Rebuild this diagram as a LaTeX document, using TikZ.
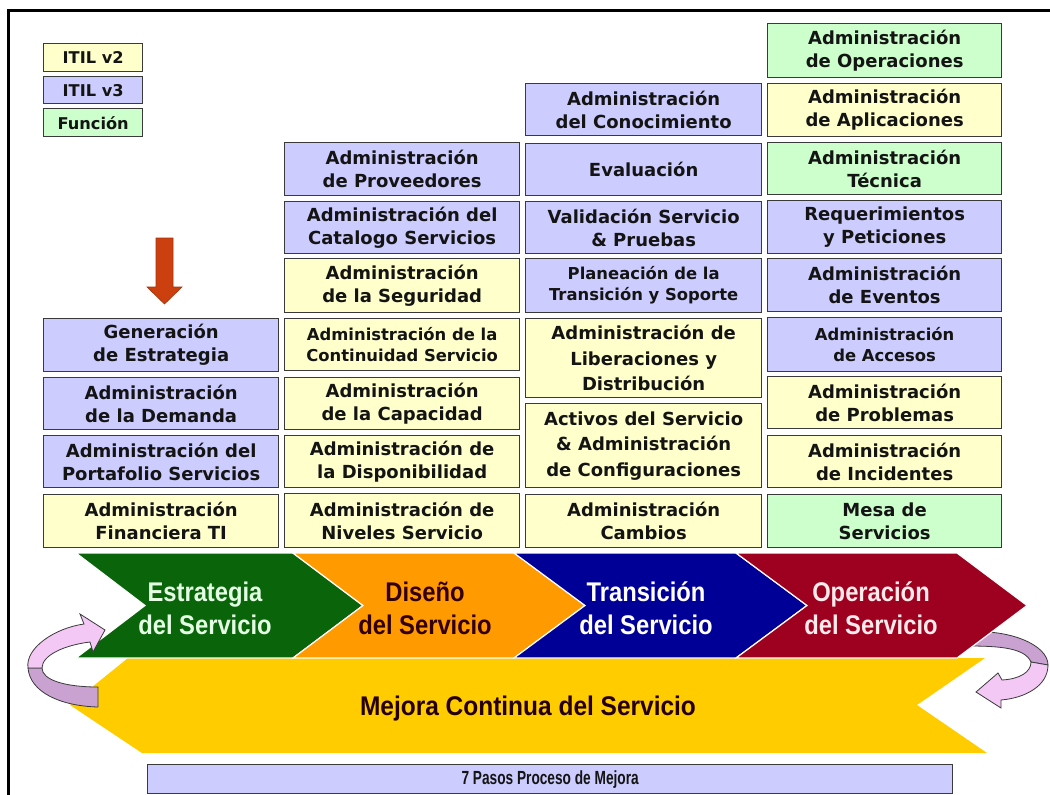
\documentclass[tikz,border=0pt]{standalone}
\usepackage{fontspec}
\newfontfamily\boxfam{DejaVu Sans}
\newfontfamily\phasefam{Liberation Sans}[FakeStretch=0.88]
\newfontfamily\narrowfam{Liberation Sans}[FakeStretch=0.72]
\definecolor{vtwo}{HTML}{FFFFCC}
\definecolor{vthree}{HTML}{CCCCFF}
\definecolor{func}{HTML}{CCFFCC}
\definecolor{boxline}{HTML}{3A3A3A}
\definecolor{boxtext}{HTML}{141414}
\definecolor{phgreen}{HTML}{0A640A}
\definecolor{phorange}{HTML}{FF9A00}
\definecolor{phblue}{HTML}{000096}
\definecolor{phred}{HTML}{9E0020}
\definecolor{band}{HTML}{FFCC00}
\definecolor{loopdark}{HTML}{C9A2D2}
\definecolor{looplight}{HTML}{F4C8F4}
\definecolor{downarrow}{HTML}{CC4010}
% one service box: name, x, top, bottom, width, options, text
\newcommand\svcbox[7]{\node[box, #6, minimum width=#5pt, minimum height={(#4-#3)*1pt}] (#1) at (#2,#3) {#7};}
\begin{document}
\begin{tikzpicture}[x=1pt,y=-1pt,
  box/.style={draw=boxline, line width=1.3pt, anchor=north west, inner sep=0pt,
    align=center, text=boxtext, font=\boxfam\bfseries\fontsize{18}{23}\selectfont},
  smaller/.style={font=\boxfam\bfseries\fontsize{16.4}{21}\selectfont},
  three/.style={font=\boxfam\bfseries\fontsize{18}{25.5}\selectfont},
  legend/.style={font=\boxfam\bfseries\fontsize{16.2}{18}\selectfont},
  phase/.style={align=center, font=\phasefam\bfseries\fontsize{27}{33}\selectfont},
  chev/.style={draw=white, line width=1.2pt},
  loop/.style={draw=boxline, line width=0.8pt},
]
\useasboundingbox (0,0) rectangle (1050,795);
\fill[white] (0,0) rectangle (1050,795);

% outer frame
\draw[line width=3pt] (8,795) -- (8,10) -- (1050,10);

% legend
\svcbox{lgtwo}{43}{43}{71}{99}{fill=vtwo, legend}{ITIL v2}
\svcbox{lgthree}{43}{76}{103}{99}{fill=vthree, legend}{ITIL v3}
\svcbox{lgfunc}{43}{108}{136}{99}{fill=func, legend}{Función}

% downward arrow
\filldraw[fill=downarrow, draw=downarrow!80!black, line width=0.6pt]
  (156,238) -- (173,238) -- (173,287) -- (182,287) -- (164.5,304)
  -- (147,287) -- (156,287) -- cycle;

% Estrategia column
\svcbox{gen}{43}{318}{371}{235}{fill=vthree}{Generación\\de Estrategia}
\svcbox{dem}{43}{377}{429}{235}{fill=vthree}{Administración\\de la Demanda}
\svcbox{port}{43}{435}{487}{235}{fill=vthree}{Administración del\\Portafolio Servicios}
\svcbox{fin}{43}{494}{547}{235}{fill=vtwo}{Administración\\Financiera TI}

% Diseño column
\svcbox{prov}{284}{142}{195}{235}{fill=vthree}{Administración\\de Proveedores}
\svcbox{cat}{284}{201}{253}{235}{fill=vthree}{Administración del\\Catalogo Servicios}
\svcbox{seg}{284}{258}{312}{235}{fill=vtwo}{Administración\\de la Seguridad}
\svcbox{cont}{284}{318}{370}{235}{fill=vtwo, smaller}{Administración de la\\Continuidad Servicio}
\svcbox{cap}{284}{377}{429}{235}{fill=vtwo}{Administración\\de la Capacidad}
\svcbox{disp}{284}{435}{487}{235}{fill=vtwo}{Administración de\\la Disponibilidad}
\svcbox{niv}{284}{493}{547}{235}{fill=vtwo}{Administración de\\Niveles Servicio}

% Transición column
\svcbox{con}{525}{83}{135}{236}{fill=vthree}{Administración\\del Conocimiento}
\svcbox{eva}{525}{143}{195}{236}{fill=vthree}{Evaluación}
\svcbox{val}{525}{201}{253}{236}{fill=vthree}{Validación Servicio\\\& Pruebas}
\svcbox{plan}{525}{258}{312}{236}{fill=vthree, smaller}{Planeación de la\\Transición y Soporte}
\svcbox{lib}{525}{318}{397}{236}{fill=vtwo, three}{Administración de\\Liberaciones y\\Distribución}
\svcbox{act}{525}{403}{487}{236}{fill=vtwo, three}{Activos del Servicio\\\& Administración\\de Configuraciones}
\svcbox{camb}{525}{494}{547}{236}{fill=vtwo}{Administración\\Cambios}

% Operación column
\svcbox{ope}{767}{23}{77}{234}{fill=func}{Administración\\de Operaciones}
\svcbox{apl}{767}{83}{136}{234}{fill=vtwo}{Administración\\de Aplicaciones}
\svcbox{tec}{767}{142}{194}{234}{fill=func}{Administración\\Técnica}
\svcbox{req}{767}{200}{253}{234}{fill=vthree}{Requerimientos\\y Peticiones}
\svcbox{eve}{767}{258}{311}{234}{fill=vthree}{Administración\\de Eventos}
\svcbox{acc}{767}{317}{371}{234}{fill=vthree, smaller}{Administración\\de Accesos}
\svcbox{prob}{767}{376}{428}{234}{fill=vtwo}{Administración\\de Problemas}
\svcbox{inc}{767}{435}{487}{234}{fill=vtwo}{Administración\\de Incidentes}
\svcbox{mesa}{767}{494}{547}{234}{fill=func}{Mesa de\\Servicios}

% continual improvement band
\fill[band] (128,658) -- (985,658) -- (917,705) -- (987,753) -- (142,753)
  -- (70,705) -- cycle;
\node[font=\phasefam\bfseries\fontsize{27}{30}\selectfont, text=black!85!red, xscale=1.03]
  (mejora) at (528,709) {Mejora Continua del Servicio};

% return loop on the right (behind the red phase)
\filldraw[loop, fill=loopdark] (968,632) .. controls (1010,629) and (1048,645) .. (1048,665)
  -- (1031,662) .. controls (1025,648) and (1000,646) .. (968,646) -- cycle;
\filldraw[loop, fill=looplight] (1048,665) .. controls (1048,686) and (1025,698) .. (1001,700)
  -- (1001,708) -- (976,692) -- (998,673) -- (1002,680)
  .. controls (1020,679) and (1031,672) .. (1031,662) -- cycle;

% lifecycle phases
\filldraw[chev, fill=phgreen] (76,553) -- (293,553) -- (363,605.5) -- (293,658)
  -- (76,658) -- (145,605.5) -- cycle;
\filldraw[chev, fill=phorange] (293,553) -- (514,553) -- (585,605.5) -- (514,658)
  -- (293,658) -- (363,605.5) -- cycle;
\filldraw[chev, fill=phblue] (514,553) -- (736,553) -- (807,605.5) -- (736,658)
  -- (514,658) -- (585,605.5) -- cycle;
\filldraw[chev, fill=phred] (736,553) -- (957,553) -- (1027,605.5) -- (957,658)
  -- (736,658) -- (807,605.5) -- cycle;

\node[phase, text=green!10] (estr) at (205,608) {Estrategia\\del Servicio};
\node[phase, text=black!80!red] (dis) at (425,608) {Diseño\\del Servicio};
\node[phase, text=white] (trans) at (646,608) {Transición\\del Servicio};
\node[phase, text=red!8] (oper) at (871,608) {Operación\\del Servicio};

% return loop on the left
\filldraw[loop, fill=loopdark] (28,668) .. controls (30,692) and (60,706) .. (98,707)
  -- (98,687) .. controls (65,687) and (42,680) .. (42,668) -- cycle;
\filldraw[loop, fill=looplight] (28,668) .. controls (25,648) and (55,628) .. (84,624)
  -- (80,614) -- (105,630) -- (93,652) -- (90,642)
  .. controls (65,645) and (42,655) .. (42,668) -- cycle;

% improvement steps
\node[draw=boxline, line width=1.3pt, fill=vthree, anchor=north west, inner sep=0pt,
  minimum width=805pt, minimum height=29pt, text=boxtext,
  font=\narrowfam\bfseries\fontsize{19}{22}\selectfont] (pasos) at (147,764)
  {7 Pasos Proceso de Mejora};
\end{tikzpicture}
\end{document}
